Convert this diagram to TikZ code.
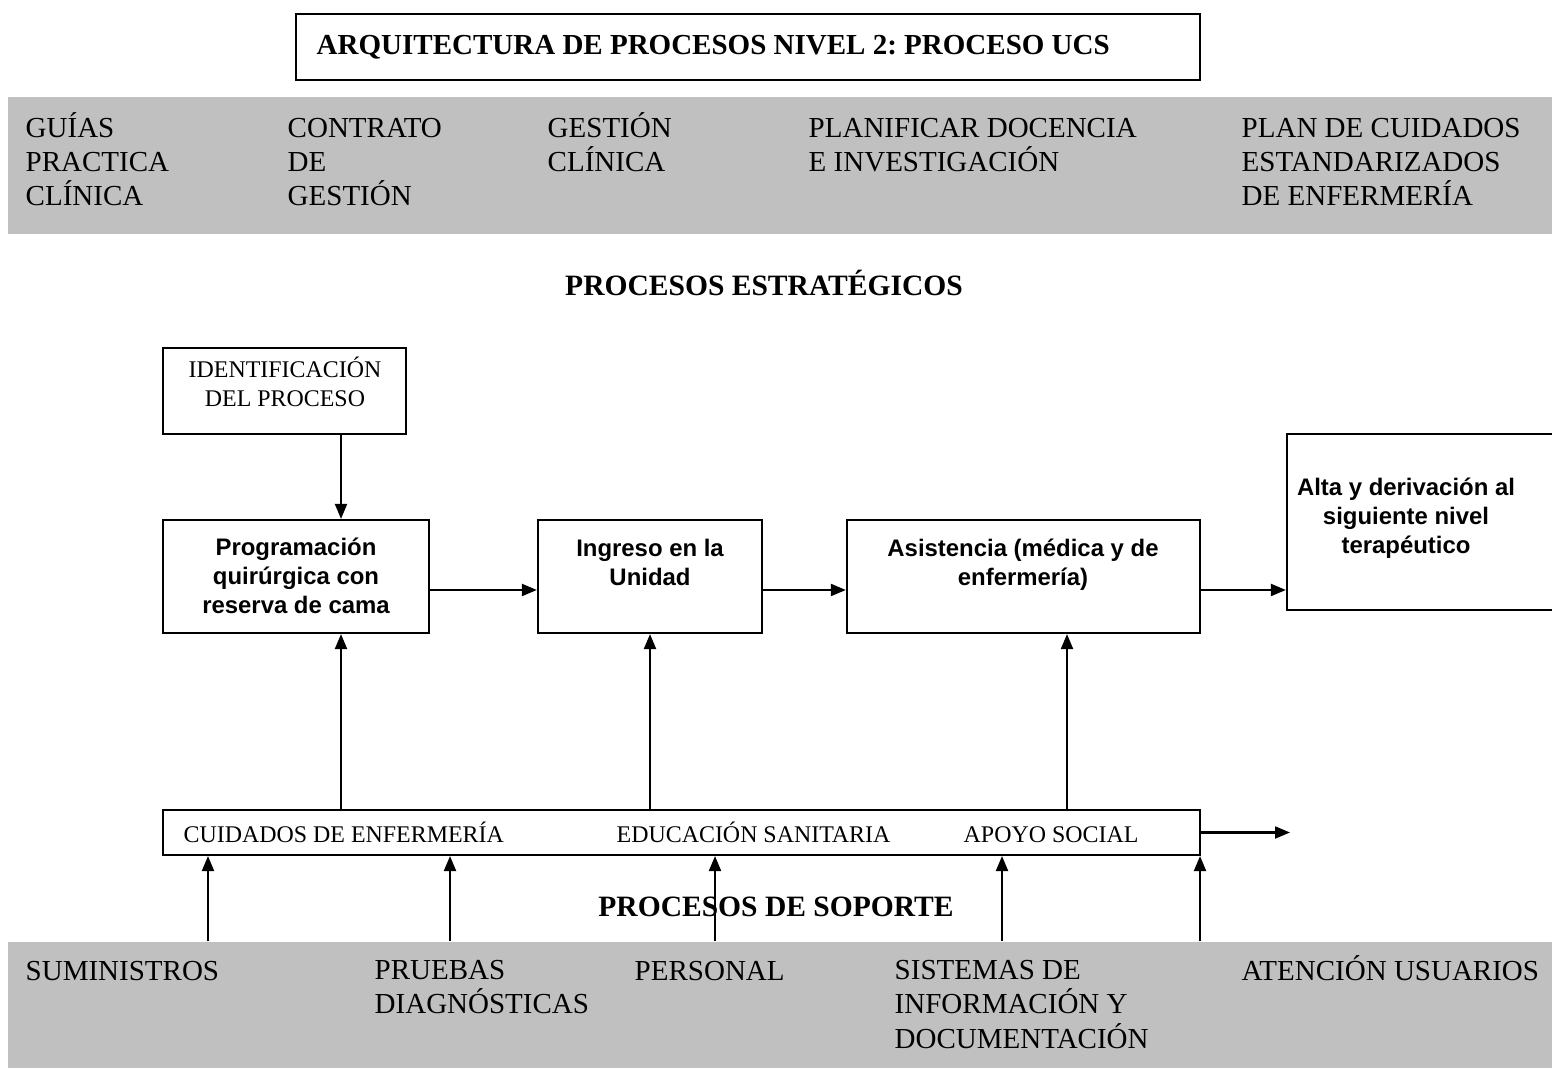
\documentclass[tikz,border=0pt]{standalone}
\usepackage{fontspec}
\setmainfont{Liberation Serif}
\setsansfont{Liberation Sans}
\usetikzlibrary{arrows.meta,positioning}
\definecolor{bandGray}{RGB}{192,192,192}
\frenchspacing

\begin{document}
\begin{tikzpicture}[x=0.01cm,y=-0.01cm,
    procbox/.style={draw,line width=0.6pt,inner sep=0pt},
    band/.style={fill=bandGray,inner sep=0pt,minimum width=15.52cm},
    arr/.style={line width=0.6pt,-{Triangle[length=0.15cm,width=0.12cm]}},
    bigtext/.style={font=\fontsize{8.25}{9.7}\selectfont,inner sep=0pt,align=left,anchor=base west},
    headtext/.style={font=\fontsize{8.4}{9.7}\selectfont\bfseries,inner sep=0pt,anchor=base},
    smalltext/.style={font=\fontsize{6.8}{8.25}\selectfont,inner sep=0pt,align=center,anchor=base},
    boldsans/.style={font=\fontsize{6.8}{8.25}\selectfont\sffamily\bfseries,inner sep=0pt,align=center,anchor=base}]

  \useasboundingbox (0,0) rectangle (1552,1068);

  % draw the gray bands
  \node[band,minimum height=1.37cm] (estrBand) at (784,165.5) {};
  \node[band,minimum height=1.33cm] (soporteBand) at (784,1008.5) {};

  % title
  \node[procbox,minimum width=9.04cm,minimum height=0.66cm] (title) at (748,47) {};
  \node[bigtext,font=\fontsize{8.25}{9.7}\selectfont\bfseries] (titleText) at (316,55)
    {ARQUITECTURA DE PROCESOS NIVEL 2: PROCESO UCS};

  % strategic processes (y = baseline of the last line)
  \foreach \xpos/\ypos/\txt [count=\i] in {25/206/{GUÍAS\\PRACTICA\\CLÍNICA},
      287/206/{CONTRATO\\DE\\GESTIÓN}, 547/172/{GESTIÓN\\CLÍNICA},
      808/172/{PLANIFICAR DOCENCIA\\E INVESTIGACIÓN},
      1241/206/{PLAN DE CUIDADOS\\ESTANDARIZADOS\\DE ENFERMERÍA}}
    \node[bigtext] (estr\i) at (\xpos,\ypos) {\txt};
  \node[headtext] (estrLabel) at (764,296) {PROCESOS ESTRATÉGICOS};

  % draw the process boxes
  \node[procbox,minimum width=2.43cm,minimum height=0.86cm] (ident) at (284.5,391) {};
  \node[procbox,minimum width=2.66cm,minimum height=1.13cm] (prog) at (296,576.5) {};
  \node[procbox,minimum width=2.24cm,minimum height=1.13cm] (ingreso) at (650,576.5) {};
  \node[procbox,minimum width=3.53cm,minimum height=1.13cm] (asist) at (1023.5,576.5) {};
  \node[procbox,minimum width=2.73cm,minimum height=1.76cm] (alta) at (1423.5,522) {};

  \node[smalltext] (identText) at (285,407) {IDENTIFICACIÓN\\DEL PROCESO};
  \node[boldsans] (progText) at (296,614) {Programación\\quirúrgica con\\reserva de cama};
  \node[boldsans] (ingresoText) at (650,586) {Ingreso en la\\Unidad};
  \node[boldsans] (asistText) at (1023,586) {Asistencia (médica y de\\enfermería)};
  \node[boldsans] (altaText) at (1406,554) {Alta y derivación al\\siguiente nivel\\terapéutico};

  % support bar
  \node[procbox,minimum width=10.37cm,minimum height=0.45cm] (bar) at (681.5,832.5) {};
  \node[smalltext,anchor=base west] (cuidados) at (183,843) {CUIDADOS DE ENFERMERÍA};
  \node[smalltext,anchor=base west] (educacion) at (616,843) {EDUCACIÓN SANITARIA};
  \node[smalltext,anchor=base west] (apoyo) at (963,843) {APOYO SOCIAL};
  \node[headtext] (soporteLabel) at (776,917) {PROCESOS DE SOPORTE};

  % support processes (y = baseline of the last line)
  \foreach \xpos/\ypos/\txt [count=\i] in {25/980/{SUMINISTROS},
      374/1014/{PRUEBAS\\DIAGNÓSTICAS}, 634/980/{PERSONAL},
      894/1048/{SISTEMAS DE\\INFORMACIÓN Y\\DOCUMENTACIÓN},
      1241/980/{ATENCIÓN USUARIOS}}
    \node[bigtext] (sop\i) at (\xpos,\ypos) {\txt};

  % draw the connectors
  \coordinate (colProg) at (341,0);
  \coordinate (colIngreso) at (650,0);
  \coordinate (colAsist) at (1067,0);
  \coordinate (flowRow) at (0,590);
  \coordinate (barOut) at (1290,832.5);

  \draw[arr] (ident.south -| colProg) -- (prog.north -| colProg);
  \draw[arr] (prog.east |- flowRow) -- (ingreso.west |- flowRow);
  \draw[arr] (ingreso.east |- flowRow) -- (asist.west |- flowRow);
  \draw[arr] (asist.east |- flowRow) -- (alta.west |- flowRow);

  \draw[arr] (bar.north -| colProg) -- (prog.south -| colProg);
  \draw[arr] (bar.north -| colIngreso) -- (ingreso.south -| colIngreso);
  \draw[arr] (bar.north -| colAsist) -- (asist.south -| colAsist);
  \draw[arr] (bar.east) -- (barOut);

  \foreach \xpos [count=\i] in {208,450,715,1002,1200} {
    \coordinate (sopCol\i) at (\xpos,0);
    \draw[arr] (soporteBand.north -| sopCol\i) -- (bar.south -| sopCol\i);
  }

\end{tikzpicture}
\end{document}
